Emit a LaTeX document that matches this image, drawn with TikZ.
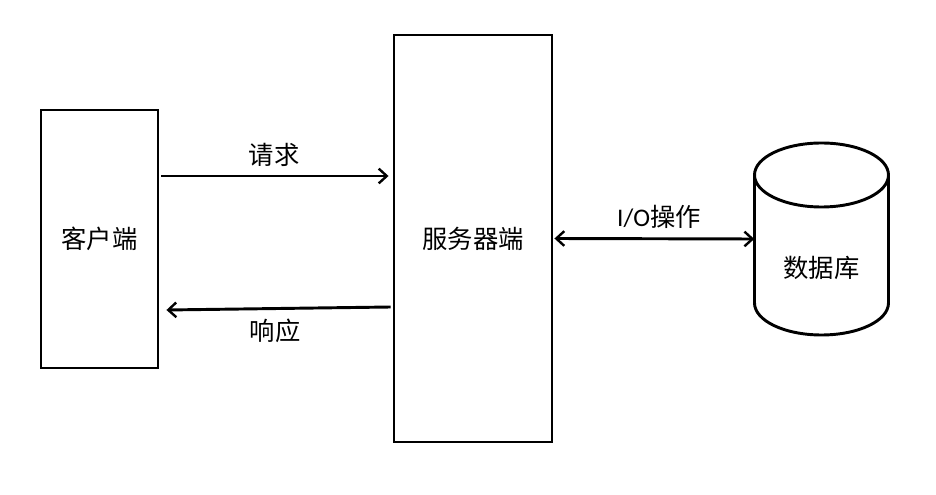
\documentclass[tikz,border=0pt]{standalone}
\usepackage{fontspec}
\newfontfamily\cjk{Noto Sans CJK SC}
\newfontfamily\latin{Carlito}
\usetikzlibrary{arrows.meta}
\tikzset{
  box/.style={draw, line width=2.2pt, inner sep=0pt, font=\cjk\fontsize{19}{22}\selectfont},
  lbl/.style={inner sep=0pt, font=\cjk\fontsize{19}{22}\selectfont},
  conn/.style={line width=2.2pt, -{Straight Barb[length=6pt,width=11pt,line width=1.8pt]}},
  dconn/.style={line width=2.2pt, {Straight Barb[length=6pt,width=11pt,line width=1.8pt]}-{Straight Barb[length=6pt,width=11pt,line width=1.8pt]}}
}
\begin{document}
\begin{tikzpicture}[x=0.75pt,y=0.75pt]
\useasboundingbox (0,0) rectangle (936,-495);
\fill[white] (0,0) rectangle (936,-495);
% client
\node[box, minimum width=87.75pt, minimum height=193.5pt] (client) at (99.5,-239) {客户端};
% server
\node[box, minimum width=118.5pt, minimum height=305.25pt] (server) at (473,-238.5) {服务器端};
% database
\node[inner sep=0pt, minimum width=100.5pt, minimum height=144pt] (db) at (821.5,-239) {};
\draw[line width=2.2pt] (821.5,-175) ellipse [x radius=67, y radius=32];
\draw[line width=2.2pt] (754.5,-175) -- (754.5,-303) arc[start angle=180, end angle=360, x radius=67, y radius=32] -- (888.5,-175);
\node[lbl] (dblabel) at (821.5,-268) {数据库};
% connectors
\draw[conn] ([shift={(2,63)}]client.east) -- ([shift={(-4,62.5)}]server.west);
\node[lbl] (req) at (274,-155) {请求};
\draw[conn] ([shift={(-2,-68.5)}]server.west) -- ([shift={(7,-71)}]client.east);
\node[lbl] (resp) at (275,-331) {响应};
\draw[dconn] ([xshift=0.75pt]server.east) -- (db.west);
\node[lbl] (io) at (659,-217) {{\latin I/O}操作};
\end{tikzpicture}
\end{document}
